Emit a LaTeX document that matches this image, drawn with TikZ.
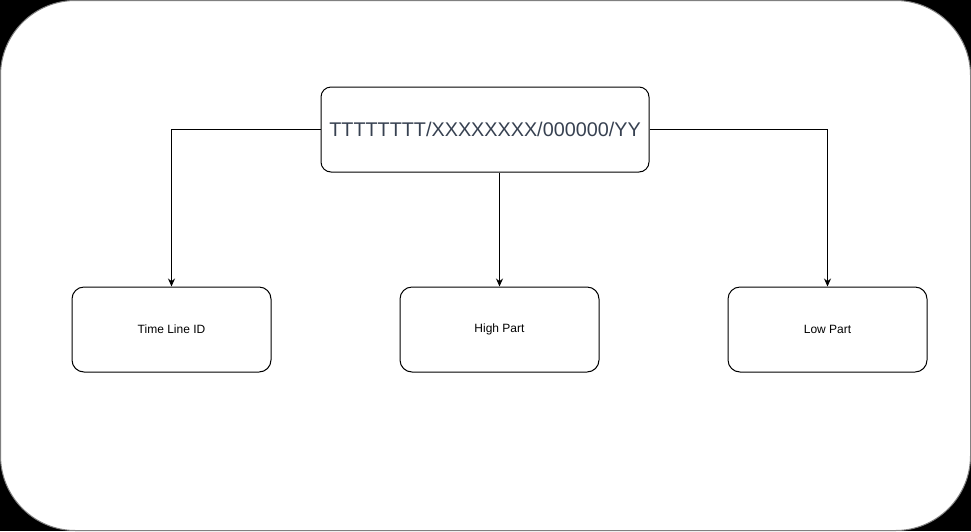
\documentclass[tikz,border=0pt]{standalone}
\usepackage{fontspec}
\setmainfont{Liberation Sans}
\usetikzlibrary{arrows.meta}

\definecolor{keytext}{RGB}{55,65,81}

\tikzset{
	part/.style={draw, rounded corners=12, line width=1pt, minimum width=199, minimum height=85, font=\fontsize{12}{14}\selectfont},
	conn/.style={line width=1pt, -{Stealth[length=8pt,width=7pt]}}
}

\begin{document}
\begin{tikzpicture}[x=1pt, y=-1pt]
		
		\fill[black] (0,0) rectangle (971,531);
		\draw[fill=white, draw=black!50, line width=1pt, rounded corners=75] (0.5,0.5) rectangle (970.5,530.5);
		
		\node [draw, rounded corners=10, line width=1pt, minimum width=328, minimum height=85, text=keytext, font=\fontsize{19.8}{24}\selectfont] (key) at (485,129.5) {TTTTTTTT/XXXXXXXX/000000/YY};
		
		\node [part] (tl) at (171.5,329.5) {Time Line ID};
		\node [part] (hp) at (499.5,329.5) {High Part};
		\node [part] (lp) at (827.5,329.5) {Low Part};
		
		\draw [conn] (key.west) -| (tl.north);
		\draw [conn] (hp.north |- key.south) -- (hp.north);
		\draw [conn] (key.east) -| (lp.north);
		
	\end{tikzpicture}
\end{document}
